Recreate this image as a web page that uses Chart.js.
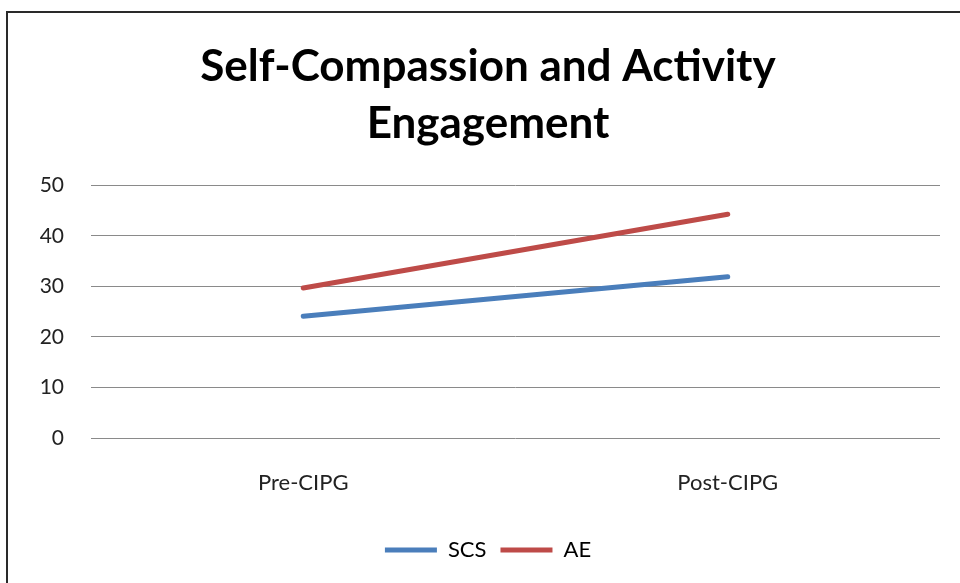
<!DOCTYPE html>
<html>
<head>
<meta charset="utf-8">
<script src="https://cdn.jsdelivr.net/npm/chart.js@4/dist/chart.umd.min.js"></script>
<style>
html,body{margin:0;padding:0;background:#fff;}
#wrap{position:absolute;left:0;top:0;width:960px;height:583px;}
</style>
</head>
<body>
<div id="wrap"><canvas id="c" width="960" height="583"></canvas></div>
<script>
const categories = ["Pre-CIPG", "Post-CIPG"];
const scsValues = [24.1, 31.9];
const aeValues = [29.7, 44.3];
const seriesNames = ["SCS", "AE"];
const titleLines = ["Self-Compassion and Activity", "Engagement"];

const FONT = "Lato, 'Open Sans', sans-serif";

const borderPlugin = {
  id: 'frame',
  beforeDraw(chart) {
    const ctx = chart.ctx;
    ctx.save();
    ctx.fillStyle = '#fff';
    ctx.fillRect(0, 0, chart.width, chart.height);
    ctx.strokeStyle = '#2a2a2a';
    ctx.lineWidth = 2;
    ctx.beginPath();
    ctx.moveTo(7, chart.height);
    ctx.lineTo(7, 12);
    ctx.lineTo(chart.width, 12);
    ctx.stroke();
    ctx.restore();
  }
};

new Chart(document.getElementById('c'), {
  type: 'line',
  data: {
    labels: categories,
    datasets: [
      { label: seriesNames[0], data: scsValues, borderColor: '#4a7ebb', backgroundColor: '#4a7ebb', borderWidth: 5, pointRadius: 0, tension: 0, borderCapStyle: 'round' },
      { label: seriesNames[1], data: aeValues, borderColor: '#be4b48', backgroundColor: '#be4b48', borderWidth: 5, pointRadius: 0, tension: 0, borderCapStyle: 'round' }
    ]
  },
  options: {
    responsive: false,
    animation: false,
    layout: { padding: { left: 36, right: 20, top: 12, bottom: 12 } },
    plugins: {
      title: {
        display: true,
        text: titleLines,
        color: '#000',
        font: { family: FONT, size: 44, weight: 'bold', lineHeight: 1.3 },
        padding: { top: 26, bottom: 33 }
      },
      legend: {
        position: 'bottom',
        labels: {
          usePointStyle: true,
          pointStyle: 'line',
          pointStyleWidth: 52,
          color: '#000',
          font: { family: FONT, size: 22 },
          padding: 14
        }
      },
      tooltip: { enabled: false }
    },
    scales: {
      x: {
        offset: true,
        grid: { display: false, drawTicks: false },
        border: { display: false },
        ticks: { color: '#222', font: { family: FONT, size: 22 }, padding: 32 },
        afterFit(s) { s.height = 87; }
      },
      y: {
        min: 0, max: 50,
        ticks: { stepSize: 10, color: '#222', font: { family: FONT, size: 21 }, padding: 27 },
        grid: { color: '#8a8a8a', lineWidth: 1, drawTicks: false },
        border: { display: false },
        afterFit(s) { s.width = 55; }
      }
    }
  },
  plugins: [borderPlugin]
});
</script>
</body>
</html>
